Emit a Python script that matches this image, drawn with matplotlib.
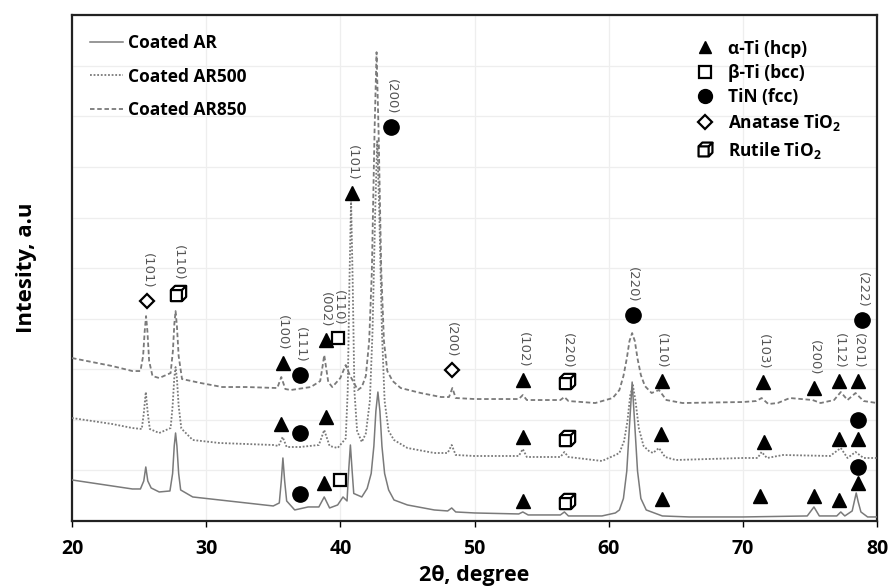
import numpy as np
import matplotlib
matplotlib.use("Agg")
import matplotlib.pyplot as plt
from matplotlib.path import Path
from matplotlib.lines import Line2D

# ---------------- data (2theta in degree, intensity in a.u.) ----------------
ar_2theta = [20.0, 21.5, 23.0, 24.5, 25.1, 25.35, 25.5, 25.65, 25.9, 26.5, 27.3, 27.5, 27.62, 27.72,
             27.82, 27.95, 28.1, 29.0, 31.0, 33.0, 35.0, 35.45, 35.6, 35.72, 35.85, 36.0, 36.6,
             37.6, 38.4, 38.8, 39.2, 39.8, 40.2, 40.5, 40.62, 40.75, 40.88, 41.0, 41.6, 42.0,
             42.3, 42.5, 42.65, 42.8, 42.95, 43.1, 43.3, 43.6, 44.0, 45.0, 47.0, 48.0, 48.3,
             48.6, 50.0, 53.3, 53.6, 54.0, 56.4, 56.7, 57.0, 59.5, 60.5, 60.8, 61.1, 61.35,
             61.55, 61.75, 61.95, 62.15, 62.4, 62.8, 63.2, 64.0, 66.0, 70.0, 74.8, 75.3, 75.7,
             77.0, 77.3, 77.6, 78.15, 78.3, 78.45, 78.6, 78.8, 79.3, 80.0]
ar_int = [82, 76, 70, 64, 64, 80, 108, 80, 66, 58, 60, 95, 150, 176,
          150, 95, 62, 48, 42, 36, 30, 36, 80, 126, 80, 40, 22,
          28, 28, 48, 26, 32, 48, 40, 100, 152, 100, 55, 48, 65,
          95, 150, 220, 258, 220, 150, 95, 62, 42, 32, 22, 20, 26,
          18, 16, 14, 18, 12, 12, 18, 10, 10, 16, 22, 45, 100,
          190, 278, 190, 100, 45, 22, 18, 10, 8, 8, 10, 28, 10,
          10, 18, 10, 20, 38, 56, 38, 18, 8, 8]

ar500_2theta = [20.0, 21.5, 23.0, 24.5, 25.2, 25.35, 25.5, 25.65, 25.8, 26.5, 27.35, 27.5, 27.62,
                27.72, 27.82, 27.95, 28.15, 29.0, 31.0, 33.0, 35.0, 35.4, 35.7, 36.0, 37.0, 38.4,
                38.8, 39.2, 39.8, 40.4, 40.55, 40.68, 40.8, 40.92, 41.05, 41.25, 41.6, 41.9, 42.2,
                42.4, 42.6, 42.75, 42.9, 43.1, 43.3, 43.6, 44.0, 45.0, 47.0, 48.0, 48.3, 48.6,
                50.0, 53.3, 53.6, 53.9, 56.4, 56.7, 57.0, 59.5, 60.5, 60.8, 61.15, 61.4, 61.6,
                61.8, 62.0, 62.25, 62.6, 63.0, 63.3, 63.75, 64.2, 65.0, 70.0, 71.1, 71.4, 71.8,
                73.0, 76.5, 77.3, 77.8, 78.4, 79.0, 80.0]
ar500_int = [206, 200, 194, 186, 184, 215, 258, 215, 184, 176, 186, 230, 285,
             308, 285, 230, 185, 162, 156, 154, 152, 150, 168, 148, 148, 152,
             182, 150, 146, 165, 260, 480, 642, 480, 260, 180, 158, 175, 240,
             380, 620, 762, 620, 380, 240, 180, 162, 146, 136, 136, 152, 132,
             130, 130, 144, 128, 128, 138, 128, 120, 132, 136, 160, 200, 250,
             272, 240, 185, 150, 140, 136, 146, 128, 122, 126, 126, 138, 126,
             132, 130, 146, 126, 138, 126, 126]

ar850_2theta = [20.0, 21.5, 23.0, 24.5, 25.1, 25.3, 25.42, 25.52, 25.62, 25.75, 26.0, 26.5, 27.35,
                27.52, 27.63, 27.72, 27.82, 27.95, 28.2, 29.6, 31.2, 33.0, 35.3, 35.6, 35.9, 36.3,
                37.8, 38.5, 38.65, 38.8, 38.95, 39.1, 39.4, 40.0, 40.4, 40.7, 41.3, 41.6, 41.9,
                42.15, 42.35, 42.55, 42.7, 42.85, 43.05, 43.25, 43.5, 43.9, 44.5, 46.0, 47.5,
                48.1, 48.35, 48.6, 50.0, 53.3, 53.6, 53.9, 56.4, 56.7, 57.0, 59.0, 60.3, 60.8,
                61.1, 61.35, 61.55, 61.75, 61.95, 62.15, 62.4, 62.7, 63.2, 63.75, 64.3, 65.5,
                70.0, 71.0, 71.4, 71.9, 72.6, 73.5, 75.2, 75.8, 76.8, 77.3, 77.8, 78.4, 79.0, 80.0]
ar850_int = [326, 318, 310, 300, 300, 330, 380, 410, 380, 320, 290, 286, 296,
             340, 395, 420, 390, 330, 284, 276, 268, 268, 266, 288, 264, 262,
             268, 280, 305, 332, 305, 278, 268, 286, 312, 292, 262, 268, 290,
             360, 500, 780, 938, 780, 500, 360, 300, 280, 266, 256, 248,
             248, 266, 246, 244, 244, 252, 242, 242, 248, 240, 236, 246, 262,
             290, 325, 360, 376, 360, 325, 292, 270, 256, 262, 242, 236,
             238, 240, 246, 234, 236, 246, 242, 236, 242, 258, 242, 256, 240, 236]

# phase identification markers: (2theta, intensity level); hkl for the top row
alpha_top_x = [35.7, 38.9, 40.9, 53.65, 63.95, 71.5, 75.3, 77.2, 78.6]
alpha_top_y = [316, 362, 656, 282, 280, 278, 266, 280, 280]
alpha_top_hkl = ['(100)', '(002)', '(101)', '(102)', '(110)', '(103)', '(200)', '(112)', '(201)']
alpha_mid_x = [35.6, 38.9, 53.65, 63.9, 71.6, 77.2, 78.6]
alpha_mid_y = [194, 208, 168, 174, 158, 164, 164]
alpha_bot_x = [38.8, 53.65, 63.95, 71.3, 75.3, 77.2, 78.6]
alpha_bot_y = [76, 40, 44, 50, 50, 42, 76]

beta_top_x = [39.85]
beta_top_y = [366]
beta_top_hkl = ['(110)']
beta_bot_x = [40.0]
beta_bot_y = [82]

tin_top_x = [37.0, 43.8, 61.8, 78.9]
tin_top_y = [292, 788, 412, 402]
tin_top_hkl = ['(111)', '(200)', '(220)', '(222)']
tin_mid_x = [37.0, 78.6]
tin_mid_y = [176, 202]
tin_bot_x = [37.0, 78.6]
tin_bot_y = [54, 108]

anatase_top_x = [25.6, 48.3]
anatase_top_y = [440, 302]
anatase_top_hkl = ['(101)', '(200)']

rutile_top_x = [27.9, 56.9]
rutile_top_y = [456, 280]
rutile_top_hkl = ['(110)', '(220)']
rutile_mid_x = [56.9]
rutile_mid_y = [166]
rutile_bot_x = [56.9]
rutile_bot_y = [40]

series_labels = ['Coated AR', 'Coated AR500', 'Coated AR850']
phase_labels = ['α-Ti (hcp)', 'β-Ti (bcc)', 'TiN (fcc)', 'Anatase TiO$_\\mathbf{2}$', 'Rutile TiO$_\\mathbf{2}$']
x_ticks = [20, 30, 40, 50, 60, 70, 80]

# ---------------- style ----------------
plt.rcParams['font.family'] = ['Open Sans', 'DejaVu Sans']
plt.rcParams['mathtext.fontset'] = 'custom'
plt.rcParams['mathtext.bf'] = 'Open Sans:bold'
plt.rcParams['mathtext.rm'] = 'Open Sans'

fig = plt.figure(figsize=(8.91, 5.86), dpi=100)
ax = fig.add_axes([0.0808, 0.111, 0.9035, 0.863])

line_col = '#7a7a7a'
ax.plot(ar_2theta, ar_int, color=line_col, lw=1.1, ls='-', label=series_labels[0], zorder=3)
ax.plot(ar500_2theta, ar500_int, color=line_col, lw=1.3, ls=(0, (1, 1)), label=series_labels[1], zorder=3)
ax.plot(ar850_2theta, ar850_int, color=line_col, lw=1.3, ls=(0, (2.5, 1.5)), label=series_labels[2], zorder=3)

# rutile cube marker
cube_verts = [(-1, -1), (0.45, -1), (0.45, 0.45), (-1, 0.45), (-1, -1),
              (-1, 0.45), (-0.45, 1), (1, 1), (0.45, 0.45),
              (1, 1), (1, -0.45), (0.45, -1)]
cube_codes = [Path.MOVETO, Path.LINETO, Path.LINETO, Path.LINETO, Path.CLOSEPOLY,
              Path.MOVETO, Path.LINETO, Path.LINETO, Path.LINETO,
              Path.MOVETO, Path.LINETO, Path.LINETO]
cube = Path(cube_verts, cube_codes)

mk = dict(ls='none', zorder=5)
sty_alpha = dict(marker='^', ms=10, mfc='black', mec='black', **mk)
sty_beta = dict(marker='s', ms=9, mfc='white', mec='black', mew=1.6, **mk)
sty_tin = dict(marker='o', ms=11, mfc='black', mec='black', **mk)
sty_ana = dict(marker='D', ms=7, mfc='white', mec='black', mew=1.6, **mk)
sty_rut = dict(marker=cube, ms=11, mfc='white', mec='black', mew=1.6, **mk)

ax.plot(alpha_top_x + alpha_mid_x + alpha_bot_x, alpha_top_y + alpha_mid_y + alpha_bot_y, **sty_alpha)
ax.plot(beta_top_x + beta_bot_x, beta_top_y + beta_bot_y, **sty_beta)
ax.plot(tin_top_x + tin_mid_x + tin_bot_x, tin_top_y + tin_mid_y + tin_bot_y, **sty_tin)
ax.plot(anatase_top_x, anatase_top_y, **sty_ana)
ax.plot(rutile_top_x + rutile_mid_x + rutile_bot_x, rutile_top_y + rutile_mid_y + rutile_bot_y, **sty_rut)

# hkl labels
for xs, ys, hk in [(alpha_top_x, alpha_top_y, alpha_top_hkl), (beta_top_x, beta_top_y, beta_top_hkl),
                   (tin_top_x, tin_top_y, tin_top_hkl), (anatase_top_x, anatase_top_y, anatase_top_hkl),
                   (rutile_top_x, rutile_top_y, rutile_top_hkl)]:
    for x, y, t in zip(xs, ys, hk):
        ax.annotate(t, (x, y), xytext=(0, 9), textcoords='offset points', rotation=-90,
                    ha='center', va='bottom', fontsize=9.5, color='#555555',
                    family='DejaVu Sans', zorder=6)

ax.set_xlim(20, 80)
ax.set_ylim(0, 1012)
ax.set_xticks(x_ticks)
ax.set_xticklabels([str(t) for t in x_ticks], fontsize=14, fontweight='bold')
ax.set_yticks(np.linspace(0, 1012, 11))
ax.set_yticklabels([])
ax.tick_params(axis='y', length=0)
ax.tick_params(axis='x', direction='out', length=4, width=1, pad=9)
ax.grid(True, color='#eeeeee', lw=0.9, zorder=0)
ax.set_axisbelow(True)
for s in ax.spines.values():
    s.set_linewidth(1.6)
    s.set_color('#222222')

ax.set_xlabel('2θ, degree', fontsize=15.5, fontweight='bold', labelpad=4)
ax.set_ylabel('Intesity, a.u', fontsize=16, fontweight='bold', labelpad=22)

leg1 = ax.legend(loc='upper left', bbox_to_anchor=(0.022, 0.962), frameon=False,
                 prop={'weight': 'bold', 'size': 12.5}, handlelength=1.9, handletextpad=0.3,
                 labelspacing=0.87, borderaxespad=0, borderpad=0)
ax.add_artist(leg1)

def handle(sty, ms):
    h = Line2D([], [], **{k: v for k, v in sty.items() if k != 'zorder'})
    h.set_markersize(ms)
    return h

handles = [handle(sty_alpha, 9), handle(sty_beta, 8), handle(sty_tin, 10), handle(sty_ana, 7), handle(sty_rut, 10)]
ax.legend(handles, phase_labels, loc='upper left',
          bbox_to_anchor=(0.776, 0.952), frameon=False, prop={'weight': 'bold', 'size': 12.5},
          handlelength=1.0, handletextpad=0.8, labelspacing=0.36, borderaxespad=0, borderpad=0)

fig.savefig('out.png', dpi=100)
